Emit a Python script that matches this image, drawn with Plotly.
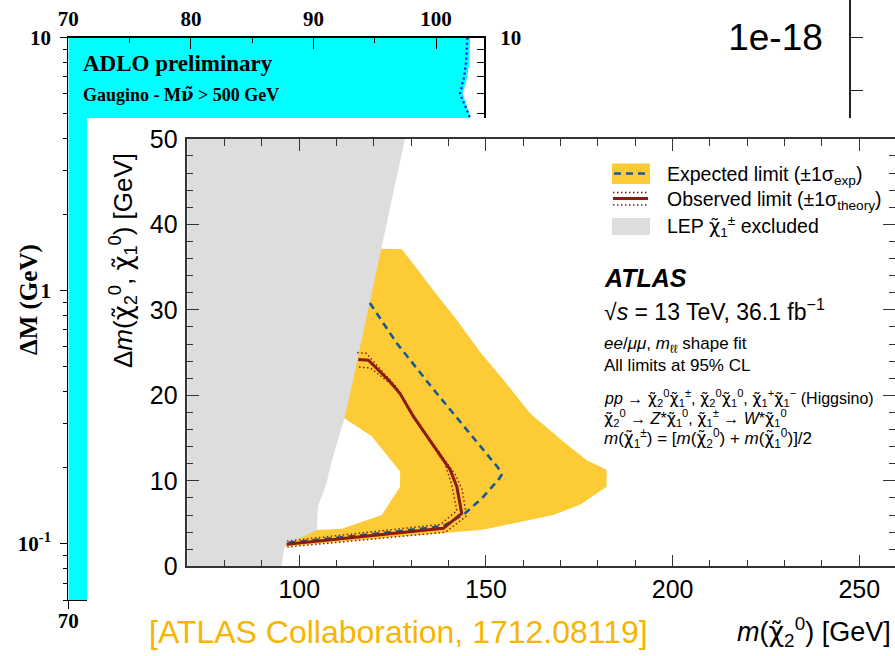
import plotly.graph_objects as go

W, H = 895, 656

# ---------------- data: LEP (ADLO) background plot ----------------
lep_excl_x = [70, 102.77, 102.71, 102.55, 102.17, 102.77, 102.9, 102.9, 70]
lep_excl_y = [10, 10, 8.0, 7.0, 6.0, 4.9, 4.0, 0.06, 0.06]
lep_limit_x = [102.55, 102.44, 102.28, 101.95, 102.71, 102.85]
lep_limit_y = [10, 8.0, 7.0, 6.0, 4.9, 4.0]
lep_xticks = [70, 80, 90, 100]
lep_xticks_bottom = [70]          # only this one is not covered by the ATLAS figure
lep_xminor = [75, 85, 95]
lep_yticks = [0.1, 1, 10]
lep_yticktext = ["10<sup>-1</sup>", "1", "10"]
lep_yminor = [0.06, 0.07, 0.08, 0.09, 0.2, 0.3, 0.4, 0.5, 0.6, 0.7, 0.8, 0.9,
              2, 3, 4, 5, 6, 7, 8, 9]

# ---------------- data: third background fragment ----------------
frag_tickvals = [0.815, 0.547]
frag_ticktext = ["1e-18", ""]

# ---------------- data: ATLAS plot ----------------
# LEP chargino exclusion (grey)
lepc_x = [70, 128.3, 114.5, 112.2, 108.5, 107.3, 105.0, 104.7, 97.3, 96.0, 95.3, 70]
lepc_y = [50, 50, 22.0, 17.5, 12.0, 9.7, 7.0, 4.25, 2.7, 2.3, 0, 0]
# expected +-1 sigma band (outer contour)
band_x = [90, 127.4, 130.5, 135.9, 142.2, 148.4, 154.7, 161.8, 170.7, 177.0,
          182.3, 182.3, 175.2, 168.0, 151.1, 148.4, 121.6, 96.0, 90]
band_y = [37.3, 37.1, 35.4, 32.3, 28.8, 25.1, 21.8, 17.9, 14.6, 12.4,
          11.3, 9.3, 7.2, 6.0, 4.44, 4.25, 3.27, 2.3, 2.3]
# hole inside the band (not excluded by -1 sigma)
hole_x = [100, 112.2, 119.4, 127.0, 127.0, 122.1, 111.4, 105.1, 100]
hole_y = [17.8, 17.3, 15.2, 11.1, 9.3, 6.0, 4.4, 4.25, 4.25]
# expected limit
exp_x = [118.9, 126.1, 133.2, 135.0, 153.3, 154.2, 153.3, 148.9, 144.4, 138.6, 121.6, 96.8]
exp_y = [30.8, 26.1, 22.2, 21.2, 11.5, 10.7, 10.1, 7.95, 6.2, 4.7, 3.86, 2.75]
# observed limit and +-1 sigma theory
obs_x = [115.8, 118.5, 123.9, 127.0, 130.6, 140.4, 142.2, 143.5, 138.6, 96.6]
obs_y = [24.2, 24.1, 21.8, 20.2, 17.5, 11.3, 9.3, 6.2, 4.44, 2.57]
obs_lo_x = [115.5, 118.0, 122.8, 126.0, 129.4, 139.0, 140.8, 142.2, 137.8, 96.6]
obs_lo_y = [25.0, 24.9, 22.5, 21.0, 18.2, 12.0, 9.6, 6.5, 4.9, 2.95]
obs_hi_x = [116.0, 119.0, 125.2, 128.2, 131.8, 141.8, 143.6, 144.8, 139.2, 96.8]
obs_hi_y = [23.3, 23.2, 21.1, 19.4, 16.8, 10.7, 9.0, 5.9, 4.0, 2.25]

# ---------------- style ----------------
SANS = "Liberation Sans, Arial, Helvetica, sans-serif"
SERIF = "Liberation Serif, Times New Roman, serif"
CYAN = "#00FFFF"
YELLOW = "#FDCB35"
BLUE = "#175A94"
RED = "#8C1C13"
GREY = "#DDDDDD"
ORANGE = "#F7B500"
AX = "#333333"


def px(p):
    return p / W


def py(p):
    return 1 - p / H


fig = go.Figure()

# LEP background plot
fig.add_trace(go.Scatter(x=lep_excl_x, y=lep_excl_y, fill="toself", fillcolor=CYAN,
                         mode="none", xaxis="x", yaxis="y", hoverinfo="skip"))
fig.add_trace(go.Scatter(x=lep_limit_x, y=lep_limit_y, mode="lines",
                         line=dict(color="#0000FF", width=2.2, dash="2px,3px"),
                         xaxis="x", yaxis="y", hoverinfo="skip"))
# overlay axes of the LEP plot (top / right)
fig.add_trace(go.Scatter(x=[None], y=[None], xaxis="x2", yaxis="y2", hoverinfo="skip"))
# fragment with 1e-18
fig.add_trace(go.Scatter(x=[None], y=[None], xaxis="x3", yaxis="y3", hoverinfo="skip"))
# white panel of the ATLAS figure
fig.add_trace(go.Scatter(x=[None], y=[None], xaxis="x4", yaxis="y4", hoverinfo="skip"))

# ATLAS plot
A = dict(xaxis="x5", yaxis="y5", hoverinfo="skip")
fig.add_trace(go.Scatter(x=band_x, y=band_y, fill="toself", fillcolor=YELLOW, mode="none", **A))
fig.add_trace(go.Scatter(x=hole_x, y=hole_y, fill="toself", fillcolor="white", mode="none", **A))
fig.add_trace(go.Scatter(x=lepc_x, y=lepc_y, fill="toself", fillcolor=GREY, mode="none", **A))
fig.add_trace(go.Scatter(x=obs_lo_x, y=obs_lo_y, mode="lines",
                         line=dict(color=RED, width=1.5, dash="1.5px,2.5px"), **A))
fig.add_trace(go.Scatter(x=obs_hi_x, y=obs_hi_y, mode="lines",
                         line=dict(color=RED, width=1.5, dash="1.5px,2.5px"), **A))
fig.add_trace(go.Scatter(x=exp_x, y=exp_y, mode="lines",
                         line=dict(color=BLUE, width=2.6, dash="7px,5px"), **A))
fig.add_trace(go.Scatter(x=obs_x, y=obs_y, mode="lines",
                         line=dict(color=RED, width=3), **A))

lep_tickfont = dict(family=SERIF, size=21, color="black", weight="bold")
atl_tickfont = dict(family=SANS, size=25, color="black")
noax = dict(showline=False, showticklabels=False, ticks="", showgrid=False,
            zeroline=False, automargin=False)

layout = dict(
    width=W, height=H, margin=dict(l=0, r=0, t=0, b=0, pad=0, autoexpand=False),
    paper_bgcolor="white", plot_bgcolor="rgb(255,255,255)", showlegend=False,
    # LEP main axes
    xaxis=dict(domain=[px(68.3), px(484.3)], range=[70, 103.93], anchor="y",
               side="bottom", tickvals=lep_xticks_bottom, ticks="outside", ticklen=8,
               tickcolor="black", showline=True, linecolor="black", linewidth=1,
               showgrid=False, zeroline=False, tickfont=lep_tickfont,
               ticklabelstandoff=-6, automargin=False),
    yaxis=dict(domain=[py(600), py(37.7)], type="log", range=[-1.2218, 1], anchor="x",
               tickvals=lep_yticks, ticktext=lep_yticktext, ticks="outside", ticklen=7,
               tickcolor="black", showline=True, linecolor="black", linewidth=1,
               minor=dict(tickmode="array", tickvals=lep_yminor, ticks="outside",
                          ticklen=4, tickcolor="black"),
               showgrid=False, zeroline=False, tickfont=lep_tickfont,
               ticklabelstandoff=5, automargin=False),
    xaxis2=dict(overlaying="x", anchor="y", side="top", range=[70, 103.93],
                tickvals=lep_xticks, ticks="inside", ticklen=12, tickcolor="black",
                minor=dict(tickmode="array", tickvals=lep_xminor, ticks="inside",
                           ticklen=6, tickcolor="black"),
                showline=True, linecolor="black", linewidth=1.5,
                showgrid=False, zeroline=False, tickfont=lep_tickfont,
                ticklabelstandoff=2, automargin=False),
    yaxis2=dict(overlaying="y", anchor="x", side="right", type="log", range=[-1.2218, 1],
                tickvals=lep_yticks, ticktext=lep_yticktext, ticks="inside", ticklen=8,
                tickcolor="black",
                minor=dict(tickmode="array", tickvals=lep_yminor, ticks="inside",
                           ticklen=8, tickcolor="black"),
                showline=True, linecolor="black", linewidth=1.5,
                showgrid=False, zeroline=False, tickfont=lep_tickfont,
                ticklabelstandoff=10, automargin=False),
    # fragment
    xaxis3=dict(domain=[px(851), 1], range=[0, 1], anchor="y3", **noax),
    yaxis3=dict(domain=[py(200), 1], range=[0, 1], anchor="x3", side="left",
                tickvals=frag_tickvals, ticktext=frag_ticktext, ticks="inside",
                ticklen=12, tickcolor="#222222", showline=True, linecolor="#222222",
                linewidth=1.5, showgrid=False, zeroline=False,
                tickfont=dict(family=SANS, size=37, color="black"),
                ticklabelstandoff=19, automargin=False),
    # white panel
    xaxis4=dict(domain=[px(87), 1], range=[0, 1], anchor="y4", **noax),
    yaxis4=dict(domain=[0, py(118)], range=[0, 1], anchor="x4", **noax),
    # ATLAS axes
    xaxis5=dict(domain=[px(187.3), 1], range=[70, 259.57], anchor="y5",
                tick0=0, dtick=50, ticks="inside", ticklen=12, tickwidth=1.2,
                tickcolor=AX, minor=dict(dtick=10, ticks="inside", ticklen=7,
                                         tickcolor=AX, tickwidth=1.2),
                showline=True, linecolor=AX, linewidth=1.5, mirror="ticks",
                showgrid=False, zeroline=False, tickfont=atl_tickfont,
                ticklabelstandoff=0, automargin=False),
    yaxis5=dict(domain=[py(566.3), py(138.8)], range=[0, 50], anchor="x5",
                tick0=0, dtick=10, ticks="inside", ticklen=12, tickwidth=1.2,
                tickcolor=AX, minor=dict(dtick=2, ticks="inside", ticklen=6,
                                         tickcolor=AX, tickwidth=1.2),
                showline=True, linecolor=AX, linewidth=1.5, mirror="ticks",
                showgrid=False, zeroline=False, tickfont=atl_tickfont,
                ticklabelstandoff=3, automargin=False),
)
fig.update_layout(**layout)

ann = []


def text(x, y, t, size, family=SANS, color="black", xanchor="left", angle=0, weight=None):
    f = dict(family=family, size=size, color=color)
    if weight:
        f["weight"] = weight
    ann.append(dict(x=px(x), y=py(y), xref="paper", yref="paper", text=t, showarrow=False,
                    xanchor=xanchor, yanchor="middle", font=f, textangle=angle))


chi = "<span style=\"font-family:'DejaVu Sans'\">χ̃</span>"
nu = "<span style=\"font-family:'DejaVu Serif'\">ν̃</span>"
# LEP texts
text(81, 63, "ADLO preliminary", 23, SERIF, weight="bold")
text(81, 94, f"Gaugino - M{nu} > 500 GeV", 18, SERIF, weight="bold")
text(29, 300, "ΔM (GeV)", 25, SERIF, xanchor="center", angle=-90, weight="bold")

# ATLAS texts
text(123, 261, f"Δ<i>m</i>({chi}<sub>2</sub><sup>0</sup>, {chi}<sub>1</sub><sup>0</sup>) [GeV]",
     26, xanchor="center", angle=-90)
text(893, 632, f"<i>m</i>({chi}<sub>2</sub><sup>0</sup>) [GeV]", 27, xanchor="right")
text(398, 632, "[ATLAS Collaboration, 1712.08119]", 32, color=ORANGE, xanchor="center")

text(665, 175, "Expected limit (±1σ<sub>exp</sub>)", 19.5)
text(665, 200, "Observed limit (±1σ<sub>theory</sub>)", 19.5)
text(665, 226.5, f"LEP {chi}<sub>1</sub><sup>±</sup> excluded", 19.5)

text(602, 278, "<b><i>ATLAS</i></b>", 25)
text(602, 310, "√<i>s</i> = 13 TeV, 36.1 fb<sup>−1</sup>", 23)
text(602, 345, "<i>ee</i>/<i>μμ</i>, <i>m</i><sub>ℓℓ</sub> shape fit", 17)
text(602, 365, "All limits at 95% CL", 17)
text(602, 398, f"<i>pp</i> → {chi}<sub>2</sub><sup>0</sup>{chi}<sub>1</sub><sup>±</sup>, "
               f"{chi}<sub>2</sub><sup>0</sup>{chi}<sub>1</sub><sup>0</sup>, "
               f"{chi}<sub>1</sub><sup>+</sup>{chi}<sub>1</sub><sup>−</sup> (Higgsino)", 16)
text(602, 418, f"{chi}<sub>2</sub><sup>0</sup> → <i>Z</i>*{chi}<sub>1</sub><sup>0</sup>, "
               f"{chi}<sub>1</sub><sup>±</sup> → <i>W</i>*{chi}<sub>1</sub><sup>0</sup>", 16)
text(602, 438, f"<i>m</i>({chi}<sub>1</sub><sup>±</sup>) = [<i>m</i>({chi}<sub>2</sub><sup>0</sup>) + "
               f"<i>m</i>({chi}<sub>1</sub><sup>0</sup>)]/2", 17)

fig.update_layout(annotations=ann)

# legend symbols
shapes = [
    dict(type="rect", xref="paper", yref="paper", x0=px(612), x1=px(650), y0=py(184),
         y1=py(163.5), fillcolor=YELLOW, line=dict(width=0)),
    dict(type="line", xref="paper", yref="paper", x0=px(614), x1=px(649), y0=py(173.5),
         y1=py(173.5), line=dict(color=BLUE, width=2.6, dash="7px,5px")),
    dict(type="line", xref="paper", yref="paper", x0=px(613), x1=px(648), y0=py(198.5),
         y1=py(198.5), line=dict(color=RED, width=3)),
    dict(type="line", xref="paper", yref="paper", x0=px(613), x1=px(648), y0=py(192.5),
         y1=py(192.5), line=dict(color=RED, width=1.5, dash="1.5px,2.5px")),
    dict(type="line", xref="paper", yref="paper", x0=px(613), x1=px(648), y0=py(205),
         y1=py(205), line=dict(color=RED, width=1.5, dash="1.5px,2.5px")),
    dict(type="rect", xref="paper", yref="paper", x0=px(612), x1=px(650), y0=py(235),
         y1=py(218), fillcolor=GREY, line=dict(width=0)),
]
fig.update_layout(shapes=shapes)

fig.write_html("out.html")
